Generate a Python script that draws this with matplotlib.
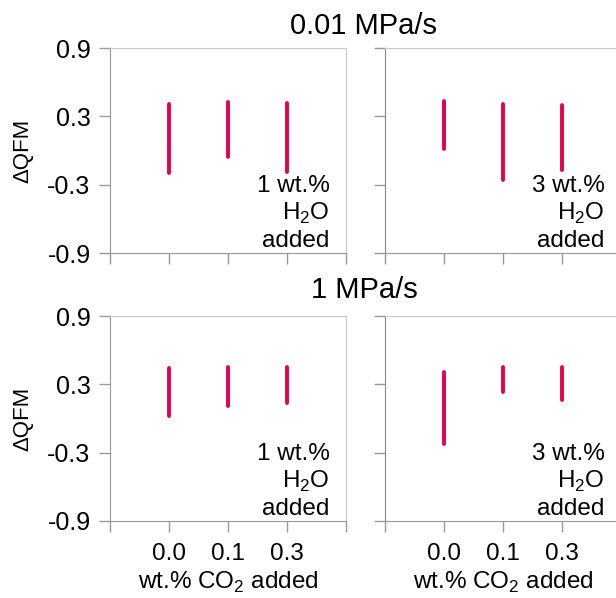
import numpy as np
import matplotlib
matplotlib.use('Agg')
import matplotlib.pyplot as plt

plt.rcParams['font.family'] = ['Liberation Sans', 'DejaVu Sans']
plt.rcParams['mathtext.fontset'] = 'custom'
plt.rcParams['mathtext.rm'] = 'Liberation Sans'

# dQFM ranges for each CO2 addition (min, max)
co2_labels = ['0.0', '0.1', '0.3']
slow_1wt_lo = [-0.20, -0.06, -0.19]
slow_1wt_hi = [0.41, 0.43, 0.42]
slow_3wt_lo = [0.01, -0.26, -0.17]
slow_3wt_hi = [0.435, 0.405, 0.40]
fast_1wt_lo = [0.02, 0.11, 0.14]
fast_1wt_hi = [0.44, 0.455, 0.455]
fast_3wt_lo = [-0.22, 0.23, 0.16]
fast_3wt_hi = [0.41, 0.455, 0.455]
water_labels = ['1 wt.%', '3 wt.%']
rate_titles = ['0.01 MPa/s', '1 MPa/s']
yticks = [0.9, 0.3, -0.3, -0.9]

W, H = 616, 598
fig = plt.figure(figsize=(W / 100, H / 100), dpi=100)

def box(left, top, width=236, height=205):
    return [left / W, (H - top - height) / H, width / W, height / H]

panels = [
    (box(110, 48), slow_1wt_lo, slow_1wt_hi, water_labels[0], True, False),
    (box(385, 48), slow_3wt_lo, slow_3wt_hi, water_labels[1], False, False),
    (box(110, 316), fast_1wt_lo, fast_1wt_hi, water_labels[0], True, True),
    (box(385, 316), fast_3wt_lo, fast_3wt_hi, water_labels[1], False, True),
]

pos = np.arange(1, len(co2_labels) + 1)
for rect, lo, hi, wlab, first_col, bottom_row in panels:
    ax = fig.add_axes(rect)
    ax.vlines(pos, lo, hi, colors='#e6004c', linewidth=2.8, capstyle='round')
    ax.set_xlim(0, 4)
    ax.set_ylim(-0.9, 0.9)
    ax.set_xticks(range(5))
    ax.set_yticks(yticks)
    for s in ['top', 'right']:
        ax.spines[s].set_color('#c8c8c8')
    ax.spines['bottom'].set_color('#999999')
    ax.spines['left'].set_color('#999999' if first_col else '#888888')
    ax.tick_params(length=8, width=1, color='#999999', labelsize=18, pad=6)
    if first_col:
        ax.set_yticklabels([f'{v:.1f}' for v in yticks])
        fig.text(23 / W, rect[1] + rect[3] / 2, 'ΔQFM', rotation=90,
                 fontsize=16, ha='center', va='center')
    else:
        ax.set_yticklabels([])
    if bottom_row:
        ax.set_xticklabels([''] + co2_labels + [''])
        ax.tick_params(axis='x', pad=8, labelsize=17.5)
        ax.set_xlabel(r'wt.% CO$_\mathregular{2}$ added', fontsize=17.5, labelpad=3)
    else:
        ax.set_xticklabels([])
    # water content note in the lower right corner
    for txt, y in zip([wlab, r'H$_\mathregular{2}$O', 'added'], [-0.365, -0.605, -0.85]):
        ax.text(3.72, y, txt, ha='right', va='baseline', fontsize=17.5)

fig.text(364 / W, 1 - 34.5 / H, rate_titles[0], ha='center', va='baseline', fontsize=21)
fig.text(364 / W, 1 - 298 / H, rate_titles[1], ha='center', va='baseline', fontsize=21)

fig.savefig('out.png', dpi=100)
